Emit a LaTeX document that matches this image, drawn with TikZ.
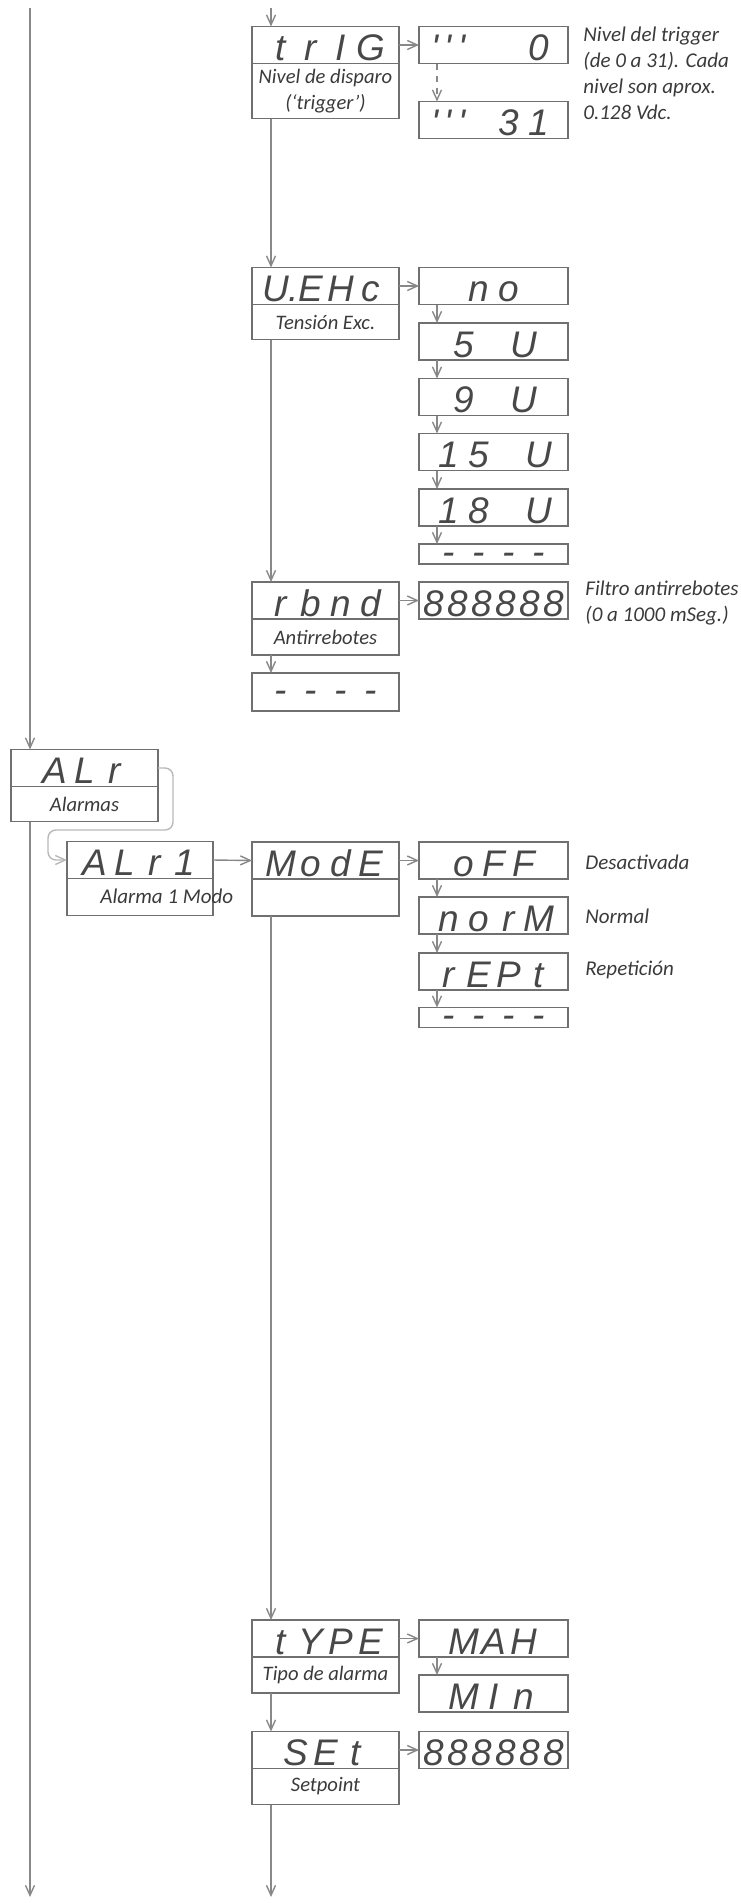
\documentclass[tikz,border=0pt]{standalone}
\usepackage{fontspec}
\setmainfont{Carlito}
\newfontfamily\segfont{Liberation Sans}
\usetikzlibrary{positioning,arrows.meta}

\definecolor{boxgray}{HTML}{707070}
\definecolor{linegray}{HTML}{888888}
\definecolor{softgray}{HTML}{B8B8B8}
\definecolor{txtgray}{HTML}{3A3A3A}
\definecolor{seggray}{HTML}{484848}

% digitos del display: un caracter por celda
\newlength{\segw}
\newcommand{\segtxt}[2][15pt]{\setlength{\segw}{#1}\segloop#2\relax}
\def\segloop#1{\ifx\relax#1\else\makebox[\segw]{#1}\expandafter\segloop\fi}
\newcommand{\tics}{\textquotesingle\,\textquotesingle\,\textquotesingle}

\begin{document}
\begin{tikzpicture}[x=0.5pt,y=-0.5pt,>={Straight Barb[length=5pt,width=4.5pt]},
  disp/.style={draw=boxgray,line width=0.8pt,minimum width=73.5pt,minimum height=18.5pt,
    inner sep=0pt,outer sep=0pt,text=seggray,text height=15.5pt,text depth=0pt,
    font=\segfont\itshape\fontsize{18.5pt}{18.5pt}\selectfont},
  emptydisp/.style={text height=10pt,text depth=0pt},
  valbox/.style={disp,minimum width=74.5pt},
  lbl/.style={draw=boxgray,line width=0.8pt,minimum width=73.5pt,minimum height=18pt,
    inner sep=0pt,outer sep=0pt,text=txtgray,align=center,
    font=\itshape\fontsize{10.3pt}{13pt}\selectfont},
  note/.style={text=txtgray,align=left,inner sep=0pt,
    font=\itshape\fontsize{10.5pt}{13pt}\selectfont},
  conn/.style={draw=linegray,line width=0.7pt,->}]

    \useasboundingbox (0,0) rectangle (740,1903);

    % Extremos libres de las lineas
    \coordinate (top-l) at (30,8);
    \coordinate (top-m) at (271,8);
    \coordinate (bot-l) at (30,1897);
    \coordinate (bot-m) at (271,1897);

    % Trigger
    \node[disp] (trig) at (325.5,45) {\segtxt{trIG}};
    \node[lbl,below=0pt of trig,minimum height=27.5pt] (trig-l) {Nivel de disparo\\(‘trigger’)};
    \node[valbox] (lvl0) at (493.5,45) {\segtxt{\tics~~0}};
    \node[valbox] (lvl31) at (493.5,120) {\segtxt{\tics~31}};
    \node[note,anchor=north west] (trig-n) at (583,27) {Nivel del trigger\\(de 0 a 31). Cada\\nivel son aprox.\\0.128 Vdc.};

    % Tension de excitacion
    \node[disp] (uehc) at (325.5,286) {\segtxt{{U.}EHc}};
    \node[lbl,below=0pt of uehc,minimum height=17.5pt] (uehc-l) {Tensión Exc.};
    \node[valbox] (no) at (493.5,286) {\segtxt{no}};
    \node[valbox] (v5) at (493.5,341.5) {\segtxt{5~U}};
    \node[valbox] (v9) at (493.5,397) {\segtxt{9~U}};
    \node[valbox] (v15) at (493.5,452) {\segtxt{15~U}};
    \node[valbox] (v18) at (493.5,507.5) {\segtxt{18~U}};
    \node[valbox,emptydisp,minimum height=9.5pt] (vend) at (493.5,554) {\segtxt{----}};

    % Antirrebotes
    \node[disp] (rbnd) at (325.5,600.5) {\segtxt{rbnd}};
    \node[lbl,below=0pt of rbnd] (rbnd-l) {Antirrebotes};
    \node[disp,emptydisp,minimum height=19pt] (rbnd-e) at (325.5,692) {\segtxt{----}};
    \node[valbox] (rbnd-v) at (493.5,600.5) {\segtxt[12pt]{888888}};
    \node[note,anchor=north west] (rbnd-n) at (585,581) {Filtro antirrebotes\\(0 a 1000 mSeg.)};

    % Alarmas
    \node[disp] (alr) at (84.5,768) {\segtxt{ALr}};
    \node[lbl,below=0pt of alr,minimum height=17.5pt] (alr-l) {Alarmas};
    \node[disp,minimum width=73pt] (alr1) at (140,860) {\segtxt{ALr1}};
    \node[lbl,below=0pt of alr1,minimum width=73pt,minimum height=18.5pt] (alr1-l) {};
    \node[note,anchor=west] (alr1-t) at (100,896.5) {Alarma 1 Modo};

    % Modo
    \node[disp] (mode) at (325.5,860.5) {\segtxt{ModE}};
    \node[lbl,below=0pt of mode,minimum height=18.5pt] (mode-l) {};
    \node[valbox] (off) at (493.5,860.5) {\segtxt{oFF}};
    \node[valbox] (norm) at (493.5,915.5) {\segtxt{norM}};
    \node[valbox] (rept) at (493.5,971.5) {\segtxt{rEPt}};
    \node[valbox,emptydisp,minimum height=9.5pt] (mend) at (493.5,1017.5) {\segtxt{----}};
    \node[note,anchor=west] (off-n) at (585,862) {Desactivada};
    \node[note,anchor=west] (norm-n) at (585,916) {Normal};
    \node[note,anchor=west] (rept-n) at (585,970) {Repetición};

    % Tipo y setpoint
    \node[disp] (type) at (325.5,1638.5) {\segtxt{tYPE}};
    \node[lbl,below=0pt of type] (type-l) {Tipo de alarma};
    \node[valbox] (mah) at (493.5,1638.5) {\segtxt{MAH}};
    \node[valbox] (min) at (493.5,1693.5) {\segtxt{MIn}};
    \node[disp] (set) at (325.5,1750) {\segtxt{SEt}};
    \node[lbl,below=0pt of set] (set-l) {Setpoint};
    \node[valbox] (set-v) at (493.5,1750) {\segtxt[12pt]{888888}};

    % Lineas verticales del menu
    \draw[conn] (top-l) -- ([xshift=9.5pt]alr.north west);
    \draw[conn] ([xshift=9.5pt]alr-l.south west) -- (bot-l);
    \draw[conn] (top-m) -- ([xshift=9.5pt]trig.north west);
    \draw[conn] ([xshift=9.5pt]trig-l.south west) -- ([xshift=9.5pt]uehc.north west);
    \draw[conn] ([xshift=9.5pt]uehc-l.south west) -- ([xshift=9.5pt]rbnd.north west);
    \draw[conn] ([xshift=9.5pt]rbnd-l.south west) -- ([xshift=9.5pt]rbnd-e.north west);
    \draw[conn] ([xshift=9.5pt]mode-l.south west) -- ([xshift=9.5pt]type.north west);
    \draw[conn] ([xshift=9.5pt]type-l.south west) -- ([xshift=9.5pt]set.north west);
    \draw[conn] ([xshift=9.5pt]set-l.south west) -- (bot-m);

    % Entradas a los valores
    \draw[conn] (trig.east) -- (lvl0.west);
    \draw[conn] (uehc.east) -- (no.west);
    \draw[conn] (rbnd.east) -- (rbnd-v.west);
    \draw[conn] (alr1.east) -- (mode.west);
    \draw[conn] (mode.east) -- (off.west);
    \draw[conn] (type.east) -- (mah.west);
    \draw[conn] (set.east) -- (set-v.west);

    % Listas de valores
    \draw[conn,dashed] ([xshift=9pt]lvl0.south west) -- ([xshift=9pt]lvl31.north west);
    \draw[conn] ([xshift=9pt]no.south west) -- ([xshift=9pt]v5.north west);
    \draw[conn] ([xshift=9pt]v5.south west) -- ([xshift=9pt]v9.north west);
    \draw[conn] ([xshift=9pt]v9.south west) -- ([xshift=9pt]v15.north west);
    \draw[conn] ([xshift=9pt]v15.south west) -- ([xshift=9pt]v18.north west);
    \draw[conn] ([xshift=9pt]v18.south west) -- ([xshift=9pt]vend.north west);
    \draw[conn] ([xshift=9pt]off.south west) -- ([xshift=9pt]norm.north west);
    \draw[conn] ([xshift=9pt]norm.south west) -- ([xshift=9pt]rept.north west);
    \draw[conn] ([xshift=9pt]rept.south west) -- ([xshift=9pt]mend.north west);
    \draw[conn] ([xshift=9pt]mah.south west) -- ([xshift=9pt]min.north west);

    % Paso de ALr a ALr1
    \draw[conn,draw=softgray,rounded corners=4pt] (alr.east) -| (173,830) -| (48,860) -- (alr1.west);

\end{tikzpicture}
\end{document}
